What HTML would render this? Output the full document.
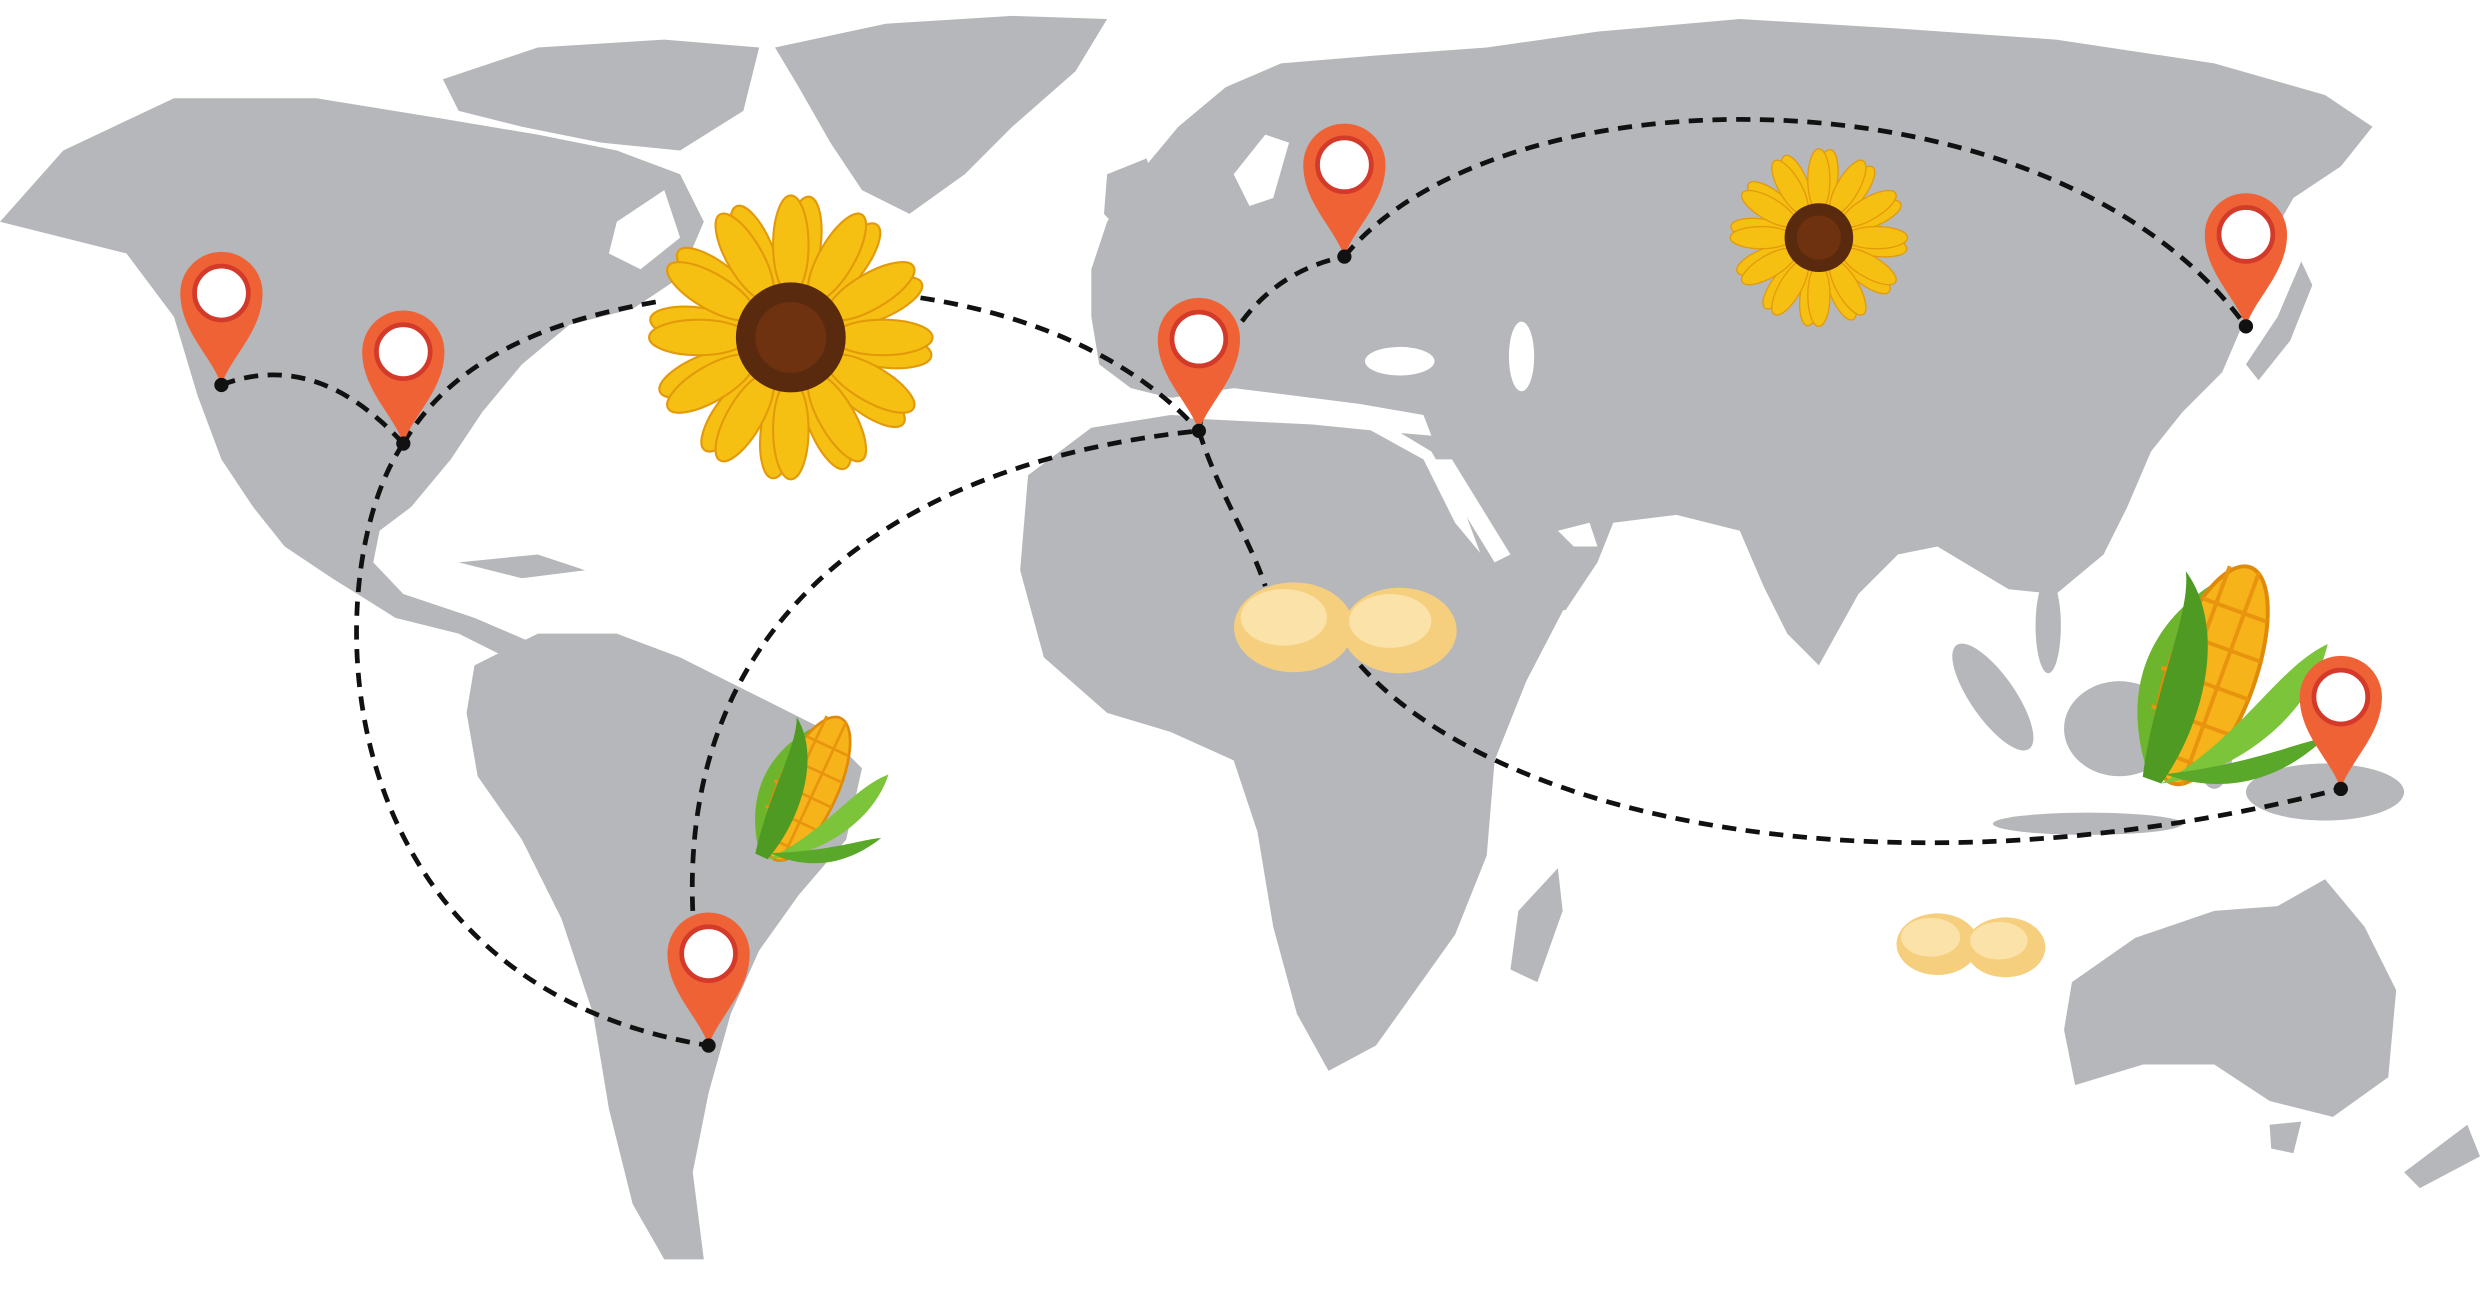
<!DOCTYPE html>
<html><head><meta charset="utf-8"><style>
html,body{margin:0;padding:0;background:#fff;width:2480px;height:1299px;overflow:hidden}
svg{display:block}
</style></head><body>
<svg width="2480" height="1299" viewBox="0 0 1568 820" preserveAspectRatio="none" xmlns="http://www.w3.org/2000/svg">
<defs>
<g id="pin">
<path d="M0,0 C-6,-18 -26,-34 -26,-58 A26,26 0 1 1 26,-58 C26,-34 6,-18 0,0 Z" fill="#ef6236"/>
<circle cx="0" cy="-58" r="17" fill="#fff" stroke="#d33a2a" stroke-width="3"/>
<circle cx="0" cy="0" r="4.5" fill="#111"/>
</g>
<ellipse id="pt" cx="0" cy="-52" rx="10" ry="28" fill="#f6c012" stroke="#e39a0a" stroke-width="1.2"/>
<g id="flower">
<use href="#pt" transform="rotate(7.5)"/><use href="#pt" transform="rotate(37.5)"/><use href="#pt" transform="rotate(67.5)"/><use href="#pt" transform="rotate(97.5)"/><use href="#pt" transform="rotate(127.5)"/><use href="#pt" transform="rotate(157.5)"/><use href="#pt" transform="rotate(187.5)"/><use href="#pt" transform="rotate(217.5)"/><use href="#pt" transform="rotate(247.5)"/><use href="#pt" transform="rotate(277.5)"/><use href="#pt" transform="rotate(307.5)"/><use href="#pt" transform="rotate(337.5)"/>
<use href="#pt" transform="rotate(0)"/><use href="#pt" transform="rotate(30)"/><use href="#pt" transform="rotate(60)"/><use href="#pt" transform="rotate(90)"/><use href="#pt" transform="rotate(120)"/><use href="#pt" transform="rotate(150)"/><use href="#pt" transform="rotate(180)"/><use href="#pt" transform="rotate(210)"/><use href="#pt" transform="rotate(240)"/><use href="#pt" transform="rotate(270)"/><use href="#pt" transform="rotate(300)"/><use href="#pt" transform="rotate(330)"/>
<circle r="31" fill="#5a2a0e"/><circle r="20" fill="#6e3210"/>
</g>
<g id="bean">
<ellipse cx="0" cy="0" rx="36" ry="27" fill="#f5cf7e"/>
<ellipse cx="-6" cy="-6" rx="26" ry="17" fill="#fbe2a8"/>
</g>
<g id="corn">
<path d="M-10,50 C-40,10 -30,-30 0,-60 C-5,-20 0,20 -10,50Z" fill="#6cb52d"/>
<ellipse cx="5" cy="-5" rx="22" ry="58" fill="#f6b31a" stroke="#e08a0a" stroke-width="2"/>
<path d="M-12,-40 L22,-40 M-18,-20 L26,-20 M-20,0 L27,0 M-18,20 L25,20 M-12,40 L20,40 M-5,-60 L-5,50 M10,-62 L10,52" stroke="#e8940e" stroke-width="2"/>
<path d="M-10,55 C-20,10 -15,-30 -25,-50 C5,-30 10,20 0,55Z" fill="#4e9a22"/>
<path d="M0,55 C30,20 35,-20 55,-40 C60,0 30,40 0,55Z" fill="#7cc43a"/>
<path d="M0,50 C40,30 60,10 70,5 C55,35 30,50 0,50Z" fill="#5aa82a"/>
</g>
</defs>
<g fill="#b5b7ba">
<path d="M490,30 L560,15 L640,10 L700,12 L680,45 L640,80 L610,110 L575,135 L545,120 L525,90 L505,55Z"/>
<path d="M280,50 L340,30 L420,25 L480,30 L470,70 L430,95 L380,90 L330,80 L290,70Z"/>
<path d="M330,110 L370,100 L400,120 L380,150 L345,140Z"/>
<path d="M0,140 L40,95 L110,62 L200,62 L280,75 L340,85 L390,95 L430,110 L445,140 L430,175 L400,195 L360,205 L330,230 L305,260 L285,290 L260,320 L240,335 L236,355 L255,375 L300,390 L335,405 L320,415 L290,400 L250,390 L210,365 L180,345 L160,320 L140,290 L125,250 L110,200 L80,160 L40,150Z"/>
<path d="M290,355 L340,350 L370,360 L330,365Z"/>
<path d="M300,420 L340,400 L390,400 L430,415 L470,435 L520,460 L545,485 L535,530 L505,565 L480,600 L462,640 L448,690 L438,740 L445,795 L420,795 L400,760 L385,700 L375,640 L355,580 L330,530 L302,490 L295,450Z"/>
<path d="M690,170 L700,140 L720,110 L745,80 L775,55 L810,40 L870,35 L940,30 L1010,20 L1100,12 L1200,18 L1300,25 L1400,40 L1470,60 L1500,80 L1480,105 L1450,125 L1430,160 L1420,200 L1405,235 L1380,260 L1360,285 L1345,320 L1330,350 L1300,375 L1270,372 L1250,360 L1225,345 L1200,350 L1175,375 L1150,420 L1130,400 L1115,370 L1100,335 L1060,325 L1020,330 L1010,355 L990,385 L960,390 L940,360 L925,320 L905,285 L880,270 L850,262 L820,258 L790,258 L760,255 L735,250 L715,245 L695,230 L690,200Z"/>
<path d="M700,110 L725,100 L735,135 L712,150 L698,135Z"/>
<path d="M1420,230 L1440,200 L1455,165 L1462,180 L1448,215 L1428,240Z"/>
<path d="M650,300 L690,270 L740,262 L800,265 L860,268 L900,290 L920,330 L945,360 L990,382 L965,430 L945,480 L940,540 L920,590 L895,625 L870,660 L840,676 L820,640 L805,585 L795,525 L780,480 L740,462 L700,450 L660,415 L645,360Z"/>
<path d="M960,575 L985,548 L988,575 L972,620 L955,612Z"/>
<ellipse cx="1260" cy="440" rx="14" ry="40" transform="rotate(-35 1260 440)"/>
<ellipse cx="1340" cy="460" rx="35" ry="30"/>
<ellipse cx="1400" cy="470" rx="12" ry="28"/>
<ellipse cx="1320" cy="520" rx="60" ry="7"/>
<ellipse cx="1470" cy="500" rx="50" ry="18"/>
<ellipse cx="1295" cy="395" rx="8" ry="30"/>
<path d="M1310,620 L1350,592 L1400,575 L1440,572 L1470,555 L1495,585 L1515,625 L1510,680 L1475,705 L1435,695 L1400,672 L1355,672 L1312,685 L1305,650Z"/>
<path d="M1435,710 L1455,708 L1450,728 L1436,725Z"/>
<path d="M1520,740 L1560,710 L1568,730 L1530,750Z"/>
</g>
<!-- seas -->
<g fill="#fff">
<path d="M735,252 L780,245 L820,250 L860,255 L900,262 L905,275 L870,272 L830,268 L790,266 L750,264Z"/>
<ellipse cx="885" cy="228" rx="22" ry="9"/>
<ellipse cx="962" cy="225" rx="8" ry="22"/>
<path d="M905,290 L918,290 L955,350 L945,355Z"/>
<path d="M985,335 L1005,330 L1010,345 L995,345Z"/>
<path d="M780,110 L800,85 L815,90 L805,125 L790,130Z"/>
<path d="M390,140 L420,120 L430,150 L405,170 L385,160Z"/>
</g>
<g fill="none" stroke="#111" stroke-width="3" stroke-dasharray="9,6">
<path d="M140,243 Q200,220 255,280"/>
<path d="M255,280 C290,220 360,200 418,190"/>
<path d="M582,188 C660,200 720,230 758,272"/>
<path d="M255,280 C200,360 200,620 448,660"/>
<path d="M438,575 C430,380 580,290 758,272"/>
<path d="M758,272 C770,200 810,170 850,162"/>
<path d="M850,162 C950,40 1300,40 1420,206"/>
<path d="M758,272 C770,310 790,340 800,370"/>
<path d="M860,420 C950,520 1200,570 1480,498"/>
</g>
<use href="#flower" transform="translate(500,213) scale(1.12)"/>
<use href="#flower" transform="translate(1150,150) scale(0.7)"/>
<use href="#corn" transform="translate(505,500) rotate(25) scale(0.85)"/>
<use href="#corn" transform="translate(1390,430) rotate(20) scale(1.25)"/>
<use href="#bean" transform="translate(818,396) scale(1.05)"/>
<use href="#bean" transform="translate(885,398) scale(1.0)"/>
<use href="#bean" transform="translate(1225,596) scale(0.72)"/>
<use href="#bean" transform="translate(1268,598) scale(0.7)"/>
<use href="#pin" transform="translate(140,243)"/>
<use href="#pin" transform="translate(255,280)"/>
<use href="#pin" transform="translate(448,660)"/>
<use href="#pin" transform="translate(758,272)"/>
<use href="#pin" transform="translate(850,162)"/>
<use href="#pin" transform="translate(1420,206)"/>
<use href="#pin" transform="translate(1480,498)"/>
</svg>
</body></html>
